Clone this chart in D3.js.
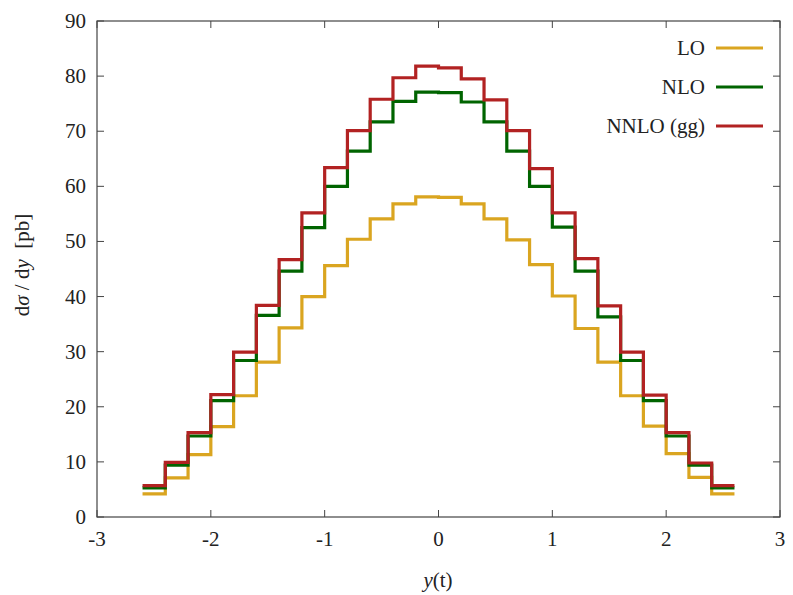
<!DOCTYPE html>
<html>
<head>
<meta charset="utf-8">
<script src="https://cdn.jsdelivr.net/npm/d3@7"></script>
<style>
  html, body { margin: 0; padding: 0; background: #fff; }
  svg text { font-family: "Liberation Serif", "DejaVu Serif", serif; fill: #222; }
</style>
</head>
<body>
<svg id="chart" width="793" height="595"></svg>
<script>
const binEdges = [-2.6,-2.4,-2.2,-2.0,-1.8,-1.6,-1.4,-1.2,-1.0,-0.8,-0.6,-0.4,-0.2,0,0.2,0.4,0.6,0.8,1.0,1.2,1.4,1.6,1.8,2.0,2.2,2.4,2.6];
const loValues = [4.2,7.1,11.3,16.4,22.0,28.1,34.3,40.0,45.6,50.4,54.1,56.8,58.1,58.0,56.8,54.1,50.3,45.8,40.1,34.2,28.1,22.0,16.5,11.5,7.2,4.2];
const nloValues = [5.3,9.4,14.7,21.1,28.4,36.6,44.6,52.5,60.0,66.4,71.7,75.4,77.1,77.0,75.3,71.7,66.4,60.0,52.6,44.6,36.3,28.4,21.1,14.7,9.4,5.3];
const nnloValues = [5.7,9.9,15.3,22.2,29.9,38.4,46.7,55.2,63.4,70.1,75.8,79.7,81.8,81.5,79.5,75.7,70.1,63.2,55.2,46.9,38.3,29.9,22.1,15.3,9.8,5.7];
const seriesNames = ["LO", "NLO", "NNLO (gg)"];
const seriesColors = ["#DAA520", "#006400", "#B22222"];
const xTicks = [-3,-2,-1,0,1,2,3];
const yTicks = [0,10,20,30,40,50,60,70,80,90];

const svg = d3.select("#chart");
const m = {left: 97, right: 780, top: 21, bottom: 517};
const x = d3.scaleLinear().domain([-3, 3]).range([m.left, m.right]);
const y = d3.scaleLinear().domain([0, 90]).range([m.bottom, m.top]);

const frameColor = "#444";
const tickLen = 7;

// ticks
const g = svg.append("g");
xTicks.forEach(t => {
  g.append("line").attr("x1", x(t)).attr("x2", x(t)).attr("y1", m.bottom).attr("y2", m.bottom - tickLen).attr("stroke", frameColor);
  g.append("line").attr("x1", x(t)).attr("x2", x(t)).attr("y1", m.top).attr("y2", m.top + tickLen).attr("stroke", frameColor);
  g.append("text").attr("x", x(t)).attr("y", m.bottom + 29).attr("text-anchor", "middle").attr("font-size", 21).text(t);
});
yTicks.forEach(t => {
  g.append("line").attr("x1", m.left).attr("x2", m.left + tickLen).attr("y1", y(t)).attr("y2", y(t)).attr("stroke", frameColor);
  g.append("line").attr("x1", m.right).attr("x2", m.right - tickLen).attr("y1", y(t)).attr("y2", y(t)).attr("stroke", frameColor);
  g.append("text").attr("x", m.left - 11).attr("y", y(t) + 7).attr("text-anchor", "end").attr("font-size", 21).text(t);
});

// series
const line = d3.line().x(d => x(d[0])).y(d => y(d[1])).curve(d3.curveStepAfter);
[loValues, nloValues, nnloValues].forEach((vals, si) => {
  const pts = vals.map((v, i) => [binEdges[i], v]);
  pts.push([binEdges[binEdges.length - 1], vals[vals.length - 1]]);
  svg.append("path").attr("d", line(pts)).attr("fill", "none")
    .attr("stroke", seriesColors[si]).attr("stroke-width", 3.2).attr("stroke-linejoin", "miter").attr("stroke-linecap", "butt");
});

// frame
svg.append("rect").attr("x", m.left).attr("y", m.top).attr("width", m.right - m.left).attr("height", m.bottom - m.top)
  .attr("fill", "none").attr("stroke", frameColor).attr("stroke-width", 1.2);

// legend
const legY = [48, 87, 126];
seriesNames.forEach((n, i) => {
  svg.append("text").attr("x", 705).attr("y", legY[i] + 7).attr("text-anchor", "end").attr("font-size", 21).text(n);
  svg.append("line").attr("x1", 716).attr("x2", 763).attr("y1", legY[i]).attr("y2", legY[i])
    .attr("stroke", seriesColors[i]).attr("stroke-width", 3.2);
});

// axis labels
const xl = svg.append("text").attr("x", 438).attr("y", 587).attr("text-anchor", "middle").attr("font-size", 21);
xl.append("tspan").attr("font-style", "italic").text("y");
xl.append("tspan").text("(t)");

const yl = svg.append("text").attr("transform", "translate(29,265) rotate(-90)").attr("text-anchor", "middle").attr("font-size", 21)
  .attr("xml:space", "preserve").style("white-space", "pre");
yl.append("tspan").text("d");
yl.append("tspan").attr("font-style", "italic").text("σ");
yl.append("tspan").text(" / d");
yl.append("tspan").attr("font-style", "italic").text("y");
yl.append("tspan").text("  [pb]");
</script>
</body>
</html>
